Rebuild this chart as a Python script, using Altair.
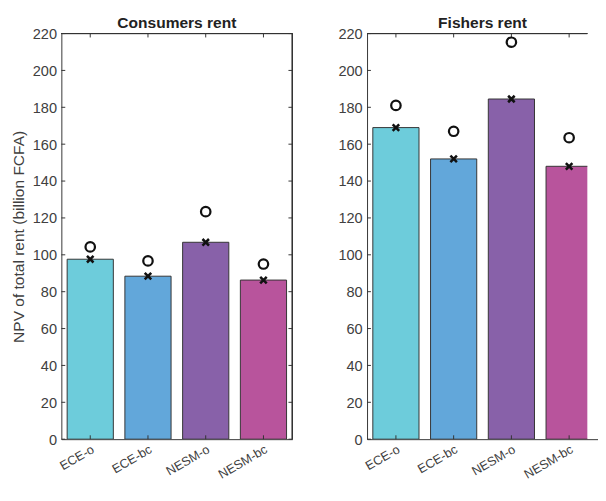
import altair as alt
import pandas as pd

categories = ["ECE-o", "ECE-bc", "NESM-o", "NESM-bc"]
bar_colors = ["#6DCCDB", "#62A7DA", "#8861A9", "#B8549C"]

consumers_bar = [97.6, 88.4, 106.8, 86.3]
consumers_circle = [104.3, 96.7, 123.4, 95.0]
fishers_bar = [169.0, 152.0, 184.5, 148.0]
fishers_circle = [181.0, 167.0, 215.3, 163.5]

y_ticks = [0, 20, 40, 60, 80, 100, 120, 140, 160, 180, 200, 220]

W = 238          # full plot width of a panel
H = 418
FONT = "Liberation Sans"
AX = "#333333"
XPATH = "M -1 -1 L 1 1 M -1 1 L 1 -1"


def panel(title, bars, circles, ytitle, view_w, title_dx, full_box):
    df = pd.DataFrame({"cat": categories, "bar": bars, "circ": circles})
    tdf = pd.DataFrame({"v": y_ticks})
    cdf = pd.DataFrame({"cat": categories})
    xscale = alt.Scale(type="band", domain=categories, paddingInner=0.2, paddingOuter=0.1,
                       range=[0, W])
    yscale = alt.Scale(domain=[0, 220], nice=False, zero=True)
    xaxis = alt.Axis(title=None, labelAngle=-30, labelAlign="right", labelBaseline="top",
                     ticks=False, domain=True, domainColor=AX, labelPadding=4, labelFontSize=13)
    yaxis = alt.Axis(title=ytitle, values=y_ticks, ticks=False, domain=True, domainColor=AX,
                     grid=False, labelPadding=5, titlePadding=6)

    def X(**kw):
        return alt.X("cat:N", sort=categories, scale=xscale, axis=xaxis, **kw)

    def Y(field):
        return alt.Y(field, scale=yscale, axis=yaxis, title=ytitle)

    b = alt.Chart(df).mark_bar(stroke=AX, strokeWidth=1, clip=True).encode(
        x=X(), y=Y("bar:Q"),
        color=alt.Color("cat:N", scale=alt.Scale(domain=categories, range=bar_colors), legend=None),
    )
    xs = alt.Chart(df).mark_point(shape=XPATH, filled=False, color="#111111",
                                  strokeWidth=2.6, size=45, opacity=1).encode(x=X(), y=Y("bar:Q"))
    cs = alt.Chart(df).mark_point(shape="circle", filled=False, color="#111111",
                                  strokeWidth=2.3, size=95, opacity=1).encode(x=X(), y=Y("circ:Q"))
    lt = alt.Chart(tdf).mark_rule(color=AX, strokeWidth=1).encode(
        y=Y("v:Q"), x=alt.value(0), x2=alt.value(4))
    tt = alt.Chart(cdf).mark_rule(color=AX, strokeWidth=1).encode(
        x=X(bandPosition=0.5), y=alt.value(0), y2=alt.value(4))
    bt = alt.Chart(cdf).mark_rule(color=AX, strokeWidth=1).encode(
        x=X(bandPosition=0.5), y=alt.value(H - 4), y2=alt.value(H))
    top = alt.Chart(cdf).mark_rule(color=AX, strokeWidth=1).encode(
        x=alt.value(0), x2=alt.value(view_w), y=alt.value(0))
    layers = [b, lt, tt, bt, top]
    if full_box:
        rt = alt.Chart(tdf).mark_rule(color=AX, strokeWidth=1).encode(
            y=Y("v:Q"), x=alt.value(W - 4), x2=alt.value(W))
        rgt = alt.Chart(cdf).mark_rule(color=AX, strokeWidth=1).encode(
            x=alt.value(W), y=alt.value(0), y2=alt.value(H))
        layers += [rt, rgt]
    layers += [xs, cs]
    return alt.layer(*layers).properties(
        width=view_w, height=H,
        title=alt.TitleParams(title, fontSize=16, fontWeight="bold", font=FONT,
                              color="#222222", offset=-4, dx=title_dx),
    )


left = panel("Consumers rent", consumers_bar, consumers_circle,
             "NPV of total rent (billion FCFA)", W, 0, True)
right = panel("Fishers rent", fishers_bar, fishers_circle, None, 227, 5.5, False)

chart = alt.hconcat(left, right, spacing=45).properties(
    padding={"left": 2, "top": 0, "right": 0, "bottom": 0}
).configure_view(stroke=None).configure_axis(
    labelFont=FONT, labelFontSize=15, labelColor="#404040",
    titleFont=FONT, titleFontSize=16, titleColor="#404040", titleFontWeight="normal",
)

chart.save("out.html", embed_options={"renderer": "svg", "actions": False})
